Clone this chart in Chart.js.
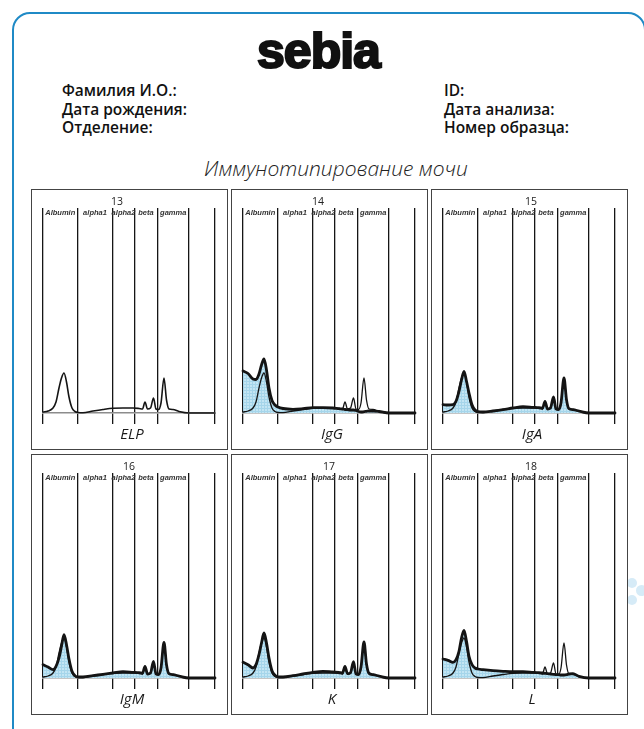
<!DOCTYPE html>
<html>
<head>
<meta charset="utf-8">
<script src="https://cdn.jsdelivr.net/npm/chart.js@4.4.1/dist/chart.umd.min.js"></script>
<style>
  html, body { margin: 0; padding: 0; background: #fff; }
  body { width: 644px; height: 729px; position: relative; overflow: hidden;
         font-family: "Open Sans", "Noto Sans", sans-serif; color: #111; }
  .frame { position: absolute; left: 12px; top: 12px; width: 634px; height: 780px;
           border: 2.5px solid #1f8ac6; border-radius: 18px; box-sizing: border-box; }
  .logo { position: absolute; left: 0; top: 26px; width: 637px; text-align: center;
          font-family: "Liberation Sans", Arial, sans-serif; font-weight: bold;
          font-size: 50px; line-height: 50px; letter-spacing: -1px;
          -webkit-text-stroke: 2.2px #111; color: #111; }
  .info { position: absolute; top: 81px; font-weight: 600; font-size: 15.5px; line-height: 18.5px; }
  .info.l { left: 62px; }
  .info.r { left: 444px; }
  .title { position: absolute; left: 0; top: 156px; width: 672px; text-align: center;
           font-style: italic; font-weight: 300; font-size: 21px; line-height: 24px; color: #222; }
  canvas { position: absolute; }
  .box { position: absolute; border: 1.5px solid #444; box-sizing: border-box; pointer-events: none; }
  .dot { position: absolute; border-radius: 50%; background: #d6ebf7; }
</style>
</head>
<body>
<div class="frame"></div>
<div class="logo">sebia</div>
<div class="info l">Фамилия И.О.:<br>Дата рождения:<br>Отделение:</div>
<div class="info r">ID:<br>Дата анализа:<br>Номер образца:</div>
<div class="title">Иммунотипирование мочи</div>
<div class="dot" style="left:627px;top:578px;width:10px;height:10px"></div>
<div class="dot" style="left:636px;top:585px;width:11px;height:11px"></div>
<div class="dot" style="left:627px;top:595px;width:10px;height:10px"></div>

<script>
// Fraction boundaries along the migration axis and their names
const BOUNDS = [0, 34.5, 69.5, 91.5, 114.5, 146, 172];
const FRACTIONS = ['Albumin', 'alpha1', 'alpha2', 'beta', 'gamma'];

// Sampling positions along the migration axis
const POS = [0, 5, 10, 13, 16, 18.5, 21, 23.5, 26, 29, 32, 35, 40, 50, 60, 70, 80, 90, 96,
             99.5, 102, 104.5, 107.5, 110.5, 113, 115.5, 118, 121, 123.5, 126, 130, 136, 146, 160, 172];

// Densitometry traces (heights above baseline)
const ELP = [1, 2, 5, 11, 25, 35, 40, 31, 16, 5, 1.5, 0.5, 0.3, 2, 3.5, 4.7, 5, 5, 4.5,
             4, 11, 4, 5, 15, 4, 3.5, 10, 35, 13, 4, 3.5, 1.5, 0, 0, 0];
const IGG = [42, 39.5, 34, 33.5, 39, 48, 54, 43, 25, 12.5, 8, 6, 4.5, 3.7, 4.3, 5.3, 5.3, 5, 4.3,
             4, 3.5, 3.3, 3, 3, 2.5, 1.5, 1, 1.3, 1.7, 2, 2, 1.5, 0, 0, 0];
const IGA = [8.3, 8, 8.3, 11.7, 21.7, 33, 41.7, 31.7, 20, 8.3, 3, 1.3, 1, 2, 3.3, 5, 6.3, 5.7, 5.3,
             4.7, 11.7, 4, 5, 16, 4, 3.3, 10, 35, 13.3, 4.3, 3.3, 2, 0, 0, 0];
const IGM = [13.3, 11, 8.3, 11.7, 20, 31.7, 43.3, 33.3, 19, 6.7, 2.3, 1, 1, 2.3, 3.7, 5, 6.3, 5.7, 5.3,
             4.7, 11.7, 4, 5, 16.7, 4, 3.3, 10, 35.7, 13.3, 4.3, 3.3, 2, 0, 0, 0];
const KAPPA = [15.7, 13.3, 10, 13.3, 23.3, 35, 45, 35, 20, 7.3, 2.7, 1, 1, 2.3, 4, 5.7, 6.7, 6, 5.7,
               5, 11.7, 4.3, 5.3, 16.3, 4, 3.3, 11, 36, 14, 4.7, 3.3, 2, 0, 0, 0];
const LAMBDA = [19, 17.7, 15.7, 18.3, 26.7, 40, 47.7, 36.7, 21.7, 13.3, 10, 9, 8.3, 7.3, 6.7, 6.3, 6.3, 5.7, 5.3,
                5, 4.7, 4.3, 4, 3.7, 3.3, 3.3, 3, 3, 3.3, 4, 4.3, 1.7, 0, 0, 0];

// Panel numbers, names and traces
const NUMBERS = ['13', '14', '15', '16', '17', '18'];
const NAMES = ['ELP', 'IgG', 'IgA', 'IgM', 'K', 'L'];
const TRACES = [null, IGG, IGA, IGM, KAPPA, LAMBDA];

// Page layout
const COL_LEFT = [31, 231, 431];
const ROW_TOP = [189, 454];
const PANEL_W = 197, PANEL_H = 261;
const NUM_AT = [74, 75, 88, 86, 86, 88];

const pts = ys => POS.map((p, i) => ({ x: p, y: ys[i] }));

function hatch() {
  const c = document.createElement('canvas');
  c.width = 3; c.height = 3;
  const g = c.getContext('2d');
  g.fillStyle = '#c3e5f3'; g.fillRect(0, 0, 3, 3);
  g.fillStyle = '#a5d5ea'; g.fillRect(0, 0, 3, 1); g.fillRect(0, 0, 1, 3);
  return c;
}
const HATCH = hatch();

const panelText = {
  id: 'panelText',
  afterDraw(chart, args, opts) {
    const { ctx, chartArea } = chart;
    const sx = chart.scales.x;
    ctx.save();
    ctx.textAlign = 'center';
    ctx.textBaseline = 'alphabetic';
    ctx.fillStyle = '#333';
    ctx.font = 'italic bold 7.5px "Liberation Sans", Arial, sans-serif';
    FRACTIONS.forEach((f, i) => {
      ctx.fillText(f, sx.getPixelForValue((BOUNDS[i] + BOUNDS[i + 1]) / 2), chartArea.top + 6.5);
    });
    ctx.fillStyle = '#222';
    ctx.font = '10.5px "Open Sans", sans-serif';
    ctx.fillText(opts.num, sx.getPixelForValue(opts.numAt), 16);
    ctx.fillStyle = '#1a1a1a';
    ctx.font = 'italic 15px "Open Sans", sans-serif';
    ctx.fillText(opts.name, sx.getPixelForValue(89), 249.5);
    ctx.restore();
  }
};

NAMES.forEach((name, k) => {
  const left = COL_LEFT[k % 3], top = ROW_TOP[Math.floor(k / 3)];
  const cv = document.createElement('canvas');
  cv.width = PANEL_W; cv.height = PANEL_H;
  cv.style.left = left + 'px'; cv.style.top = top + 'px';
  cv.style.width = PANEL_W + 'px'; cv.style.height = PANEL_H + 'px';
  document.body.appendChild(cv);
  const box = document.createElement('div');
  box.className = 'box';
  box.style.left = left + 'px'; box.style.top = top + 'px';
  box.style.width = PANEL_W + 'px'; box.style.height = PANEL_H + 'px';
  document.body.appendChild(box);

  const ctx = cv.getContext('2d');
  const datasets = [];
  if (TRACES[k]) {
    datasets.push({ data: pts(TRACES[k]), borderColor: '#141414', borderWidth: 2.8,
                    fill: 'origin', backgroundColor: ctx.createPattern(HATCH, 'repeat'), order: 0 });
    datasets.push({ data: pts(ELP), borderColor: '#141414', borderWidth: 1.3, fill: false, order: 1 });
  } else {
    datasets.push({ data: pts(ELP), borderColor: '#141414', borderWidth: 1.6, fill: false, order: 0 });
  }
  datasets.forEach(d => { d.clip = 8; d.pointRadius = 0; d.cubicInterpolationMode = 'monotone';
                          d.borderJoinStyle = 'round'; d.borderCapStyle = 'round'; });

  new Chart(ctx, {
    type: 'line',
    data: { datasets },
    options: {
      responsive: false,
      animation: false,
      events: [],
      layout: { padding: { left: 12, right: PANEL_W - 184, top: 19, bottom: 26 } },
      plugins: {
        legend: { display: false },
        tooltip: { enabled: false },
        filler: { drawTime: 'beforeDatasetsDraw' },
        panelText: { num: NUMBERS[k], name, numAt: NUM_AT[k] }
      },
      scales: {
        x: {
          type: 'linear', min: 0, max: 172,
          afterBuildTicks: s => { s.ticks = BOUNDS.map(v => ({ value: v })); },
          ticks: { display: false },
          grid: { color: '#151515', lineWidth: 1.3, drawTicks: true, tickLength: 11, tickColor: '#151515' },
          border: { display: true, color: '#8c8c8c', width: 1.5 }
        },
        y: { display: false, min: 0, max: 205 }
      }
    },
    plugins: [panelText]
  });
});
</script>
</body>
</html>
